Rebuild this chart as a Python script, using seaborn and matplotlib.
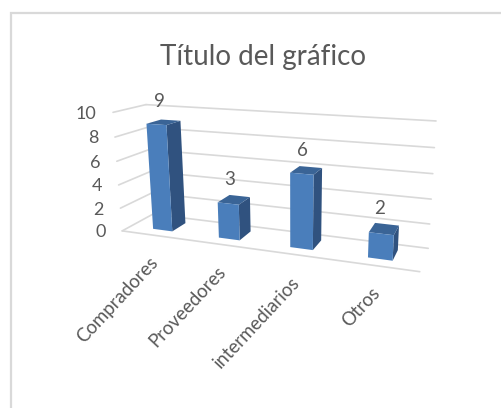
"""
plot.py
-------
Excel style 3D column chart, seaborn bars pushed through a perspective transform.
"""

import numpy as np
import matplotlib
matplotlib.use("Agg")
import matplotlib.pyplot as plt
from matplotlib.patches import Rectangle
from matplotlib.transforms import Transform
import seaborn as sns

categories = ["Compradores", "Proveedores", "intermediarios", "Otros"]
values = [9, 3, 6, 2]
y_ticks = [0, 2, 4, 6, 8, 10]
title = "Título del gráfico"

W, H = 502, 408
TEXT = "#595959"
GRID = "#D9D9D9"
FRONT, SIDE, TOP = "#4A7EBB", "#30527F", "#3A6496"
BAR_WIDTH = 0.3
D0, D1 = 0.28, 0.75

# box corners: (category pos, value, depth) -> image pixels, used to fit the camera
box_3d = [(-.5, 0, 0), (3.5, 0, 0), (-.5, 10, 0), (-.5, 0, 1), (-.5, 10, 1), (3.5, 0, 1), (3.5, 10, 1)]
box_px = [(122, 230), (420, 272), (113, 113), (153, 215), (146, 104), (428, 248), (436, 121)]


def fit_camera(world, image):
    rows = []
    for (x, y, z), (u, v) in zip(world, image):
        rows.append([x, y, z, 1, 0, 0, 0, 0, -u*x, -u*y, -u*z, -u])
        rows.append([0, 0, 0, 0, x, y, z, 1, -v*x, -v*y, -v*z, -v])
    return np.linalg.svd(np.array(rows, float))[2][-1].reshape(3, 4)


P = fit_camera(box_3d, box_px)


class Plane(Transform):
    """Maps 2D coordinates of one box plane to display pixels."""
    input_dims = output_dims = 2
    is_separable = False
    has_inverse = False

    def __init__(self, to3d):
        super().__init__()
        self.to3d = to3d

    def transform_non_affine(self, xy):
        xy = np.asarray(xy, float).reshape(-1, 2)
        a, b, c = self.to3d(xy[:, 0], xy[:, 1])
        pts = P @ np.vstack([a, b, c, np.ones_like(a)])
        return np.column_stack([pts[0] / pts[2], H - pts[1] / pts[2]])


def at_depth(d):
    return Plane(lambda x, v: (x, v, np.full_like(x, d)))


def at_x(x0):
    return Plane(lambda d, v: (np.full_like(d, x0), v, d))


def at_value(v0):
    return Plane(lambda x, d: (x, np.full_like(x, v0), d))


sns.set_theme(style="white")
plt.rcParams["font.family"] = ["Lato", "DejaVu Sans"]

fig = plt.figure(figsize=(W / 100, H / 100), dpi=100, facecolor="white")
ax = fig.add_axes([0, 0, 1, 1])

sns.barplot(x=categories, y=values, color=FRONT, saturation=1, width=BAR_WIDTH,
            ax=ax, zorder=5)
ax.set_axis_off()

# chart frame
fig.add_artist(Rectangle((11 / W, -0.1), 1.2, 1.1 - 13 / H, transform=fig.transFigure,
                         fill=False, edgecolor=GRID, linewidth=1.6))

# walls and floor
for t in y_ticks:
    ax.plot([0, 1], [t, t], color=GRID, lw=1.2, transform=at_x(-.5), clip_on=False, zorder=1)
    ax.plot([-.5, 3.5], [t, t], color=GRID, lw=1.2, transform=at_depth(1), clip_on=False, zorder=1)
ax.plot([-.5, 3.5], [0, 0], color=GRID, lw=1.2, transform=at_depth(0), clip_on=False, zorder=1)

# bars: seaborn gives the front faces, side and top follow from them
for bar, val in zip(ax.patches, values):
    x0, x1 = bar.get_x(), bar.get_x() + bar.get_width()
    bar.set_transform(at_depth(D0))
    bar.set_clip_on(False)
    bar.set_linewidth(0)
    ax.add_patch(Rectangle((D0, 0), D1 - D0, val, facecolor=SIDE, lw=0, clip_on=False,
                           transform=at_x(x1), zorder=4))
    ax.add_patch(Rectangle((x0, D0), x1 - x0, D1 - D0, facecolor=TOP, lw=0, clip_on=False,
                           transform=at_value(val), zorder=4))
    ax.annotate(str(val), xy=((x0 + x1) / 2, val), xycoords=at_depth((D0 + D1) / 2),
                xytext=(-3, 8.5), textcoords="offset points", ha="center", va="bottom",
                color=TEXT, fontsize=13.5, annotation_clip=False)

for t in y_ticks:
    ax.annotate(str(t), xy=(-.5, t), xycoords=at_depth(0), xytext=(-12, -1),
                textcoords="offset points", ha="right", va="center",
                color=TEXT, fontsize=13, annotation_clip=False)

for i, name in enumerate(categories):
    ax.annotate(name, xy=(i, 0), xycoords=at_depth(0), xytext=(-4, -13.5),
                textcoords="offset points", ha="right", va="top", rotation=47,
                rotation_mode="anchor", color=TEXT, fontsize=13.4, annotation_clip=False)

fig.text(263.5 / W, 1 - 57 / H, title, ha="center", va="center", color=TEXT, fontsize=20)

fig.savefig("out.png", dpi=100)
